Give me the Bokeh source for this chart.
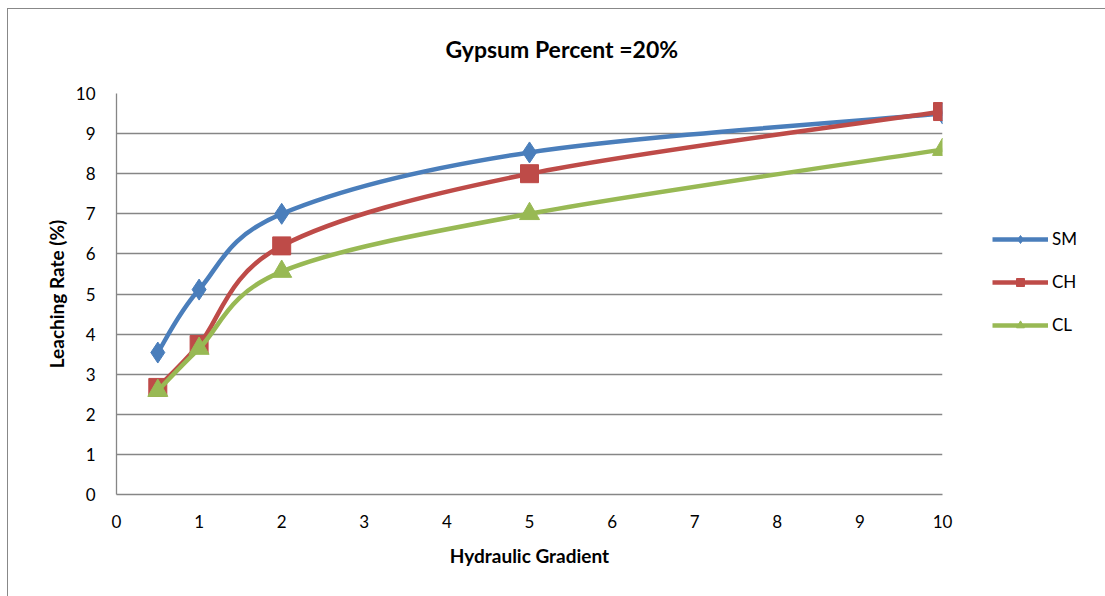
import numpy as np
from bokeh.plotting import figure
from bokeh.models import ColumnDataSource, Legend, LegendItem, FixedTicker
from bokeh.embed import file_html
from bokeh.resources import INLINE

gradient = [0.5, 1, 2, 5, 10]
sm = [3.54, 5.11, 7.0, 8.53, 9.5]
ch = [2.67, 3.74, 6.2, 8.0, 9.55]
cl = [2.59, 3.64, 5.56, 7.0, 8.6]

series = [("SM", sm, "#4A7EBB", "diamond", 21),
          ("CH", ch, "#BE4B48", "square", 18),
          ("CL", cl, "#98B954", "triangle", 20)]

FONT = "Lato"

p = figure(width=1097, height=587, output_backend="svg", toolbar_location=None,
           x_range=(0, 10), y_range=(0, 10),
           frame_width=826, frame_height=401,
           min_border_left=108, min_border_right=163, min_border_top=84, min_border_bottom=102)
p.styles = {"border-left": "1px solid #888888", "border-top": "1px solid #888888",
            "margin-left": "7px", "margin-top": "8px"}

p.title.text = "Gypsum Percent =20%\n "
p.title.align = "left"
p.title.offset = 329
p.title.text_font = FONT
p.title.text_font_size = "23px"
p.title.text_font_style = "bold"
p.title.text_color = "#000000"
p.title.vertical_align = "top"
p.title.standoff = 2

p.outline_line_color = None
p.xgrid.grid_line_color = None
p.ygrid.grid_line_color = "#868686"
p.ygrid.grid_line_width = 1.3

for ax in (p.xaxis[0], p.yaxis[0]):
    ax.axis_line_color = "#868686"
    ax.axis_line_width = 1.3
    ax.major_tick_line_color = None
    ax.minor_tick_line_color = None
    ax.major_label_text_font = FONT
    ax.major_label_text_font_size = "17px"
    ax.major_label_text_color = "#000000"
    ax.axis_label_text_font = FONT
    ax.axis_label_text_font_size = "19px"
    ax.axis_label_text_font_style = "bold"
    ax.axis_label_text_color = "#000000"
    ax.ticker = FixedTicker(ticks=list(range(0, 11)))

p.xaxis.axis_label = "Hydraulic Gradient"
p.yaxis.axis_label = "Leaching Rate (%)"
p.xaxis.major_label_standoff = 14
p.yaxis.major_label_standoff = 15
p.xaxis.axis_label_standoff = 13
p.yaxis.axis_label_standoff = 5


def bezier_segments(xs, ys):
    xs = np.asarray(xs, float)
    ys = np.asarray(ys, float)
    n = len(xs)
    d = dict(x0=[], y0=[], x1=[], y1=[], cx0=[], cy0=[], cx1=[], cy1=[])
    for i in range(n - 1):
        im1 = max(i - 1, 0)
        ip2 = min(i + 2, n - 1)
        d["x0"].append(xs[i]); d["y0"].append(ys[i])
        d["x1"].append(xs[i + 1]); d["y1"].append(ys[i + 1])
        d["cx0"].append(xs[i] + (xs[i + 1] - xs[im1]) / 6)
        d["cy0"].append(ys[i] + (ys[i + 1] - ys[im1]) / 6)
        d["cx1"].append(xs[i + 1] - (xs[ip2] - xs[i]) / 6)
        d["cy1"].append(ys[i + 1] - (ys[ip2] - ys[i]) / 6)
    return ColumnDataSource(d)


items = []
for name, vals, color, marker, size in series:
    src = bezier_segments(gradient, vals)
    p.bezier(x0="x0", y0="y0", x1="x1", y1="y1", cx0="cx0", cy0="cy0",
             cx1="cx1", cy1="cy1", source=src, line_color=color, line_width=4.5)
    p.scatter(gradient, vals, marker=marker, size=size, fill_color=color,
              line_color=color)
    leg_line = p.line([np.nan], [np.nan], line_color=color, line_width=4.5)
    leg_mark = p.scatter([np.nan], [np.nan], marker=marker, size=14,
                         fill_color=color, line_color=color)
    items.append(LegendItem(label=name, renderers=[leg_line, leg_mark]))

legend = Legend(items=items, location=(50, 159), orientation="vertical",
                glyph_width=56, glyph_height=20, spacing=22, label_standoff=4,
                label_text_font=FONT, label_text_font_size="17px",
                label_text_color="#000000",
                border_line_color=None, background_fill_alpha=0,
                padding=0, margin=0)
p.add_layout(legend, "right")

open("out.html", "w").write(file_html(p, INLINE))
